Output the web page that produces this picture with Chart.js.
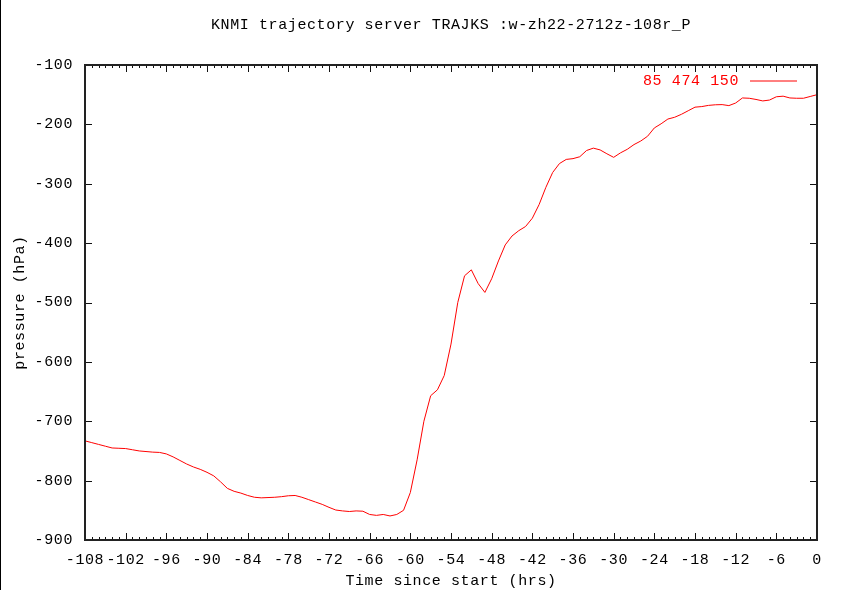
<!DOCTYPE html>
<html><head><meta charset="utf-8">
<script src="https://cdn.jsdelivr.net/npm/chart.js@4/dist/chart.umd.min.js"></script>
<style>html,body{margin:0;padding:0;background:#fff}#wrap{width:843px;height:590px;position:relative}</style>
</head><body><div id="wrap"><canvas id="c" width="843" height="590"></canvas></div>
<script>
const titleText = 'KNMI trajectory server TRAJKS :w-zh22-2712z-108r_P';
const seriesLabel = '85 474 150';
const xTitle = 'Time since start (hrs)';
const yTitle = 'pressure (hPa)';
const hours = [-108,-107,-106,-105,-104,-103,-102,-101,-100,-99,-98,-97,-96,-95,-94,-93,-92,-91,-90,-89,-88,-87,-86,-85,-84,-83,-82,-81,-80,-79,-78,-77,-76,-75,-74,-73,-72,-71,-70,-69,-68,-67,-66,-65,-64,-63,-62,-61,-60,-59,-58,-57,-56,-55,-54,-53,-52,-51,-50,-49,-48,-47,-46,-45,-44,-43,-42,-41,-40,-39,-38,-37,-36,-35,-34,-33,-32,-31,-30,-29,-28,-27,-26,-25,-24,-23,-22,-21,-20,-19,-18,-17,-16,-15,-14,-13,-12,-11,-10,-9,-8,-7,-6,-5,-4,-3,-2,-1,0];
const pressure = [-733,-736,-739,-742,-745,-745.5,-746,-748,-750,-751,-752,-752.5,-755,-760,-766,-772,-777,-781,-786,-792,-802,-813,-818,-821,-825,-828,-829,-828.5,-828,-827,-825.5,-825,-828,-832,-836,-840,-845,-849.5,-851,-852,-851,-851.5,-857,-858.5,-857,-859.5,-857,-850,-820,-765,-700,-657,-647,-623,-570,-500,-455,-445,-468,-483,-460,-430,-403,-388,-379,-372,-358,-335,-306,-281,-266,-259,-257.7,-254.5,-244,-240,-243,-249.5,-255.5,-248,-242,-234,-228,-220,-206,-199,-191,-188,-183,-177,-171,-170,-168,-167,-166.7,-168.4,-164,-155.5,-156,-158,-160.5,-159,-153.5,-152.5,-155.5,-156,-156,-153,-150];
const xRange = [-108, 0];
const xStep = 6;
const yRange = [-900, -100];
const yStep = 100;

const FONT = {family: "'Liberation Mono', 'DejaVu Sans Mono', monospace", size: 15};

const frame = {
  id: 'frame',
  beforeDraw(chart) { chart.ctx.letterSpacing = '0.6px'; },
  afterDatasetsDraw(chart) {
    const ctx = chart.ctx, a = chart.chartArea, xs = chart.scales.x, ys = chart.scales.y;
    ctx.save();
    ctx.strokeStyle = '#111';
    ctx.lineWidth = 1;
    ctx.beginPath();
    for (let v = xRange[0]; v <= xRange[1]; v += 1) {
      const p = Math.round(xs.getPixelForValue(v)) + 0.5;
      const len = (v % xStep === 0) ? 7 : 3;
      ctx.moveTo(p, a.bottom); ctx.lineTo(p, a.bottom - len);
      ctx.moveTo(p, a.top); ctx.lineTo(p, a.top + len);
    }
    for (let v = yRange[0]; v <= yRange[1]; v += yStep) {
      const p = Math.round(ys.getPixelForValue(v)) + 0.5;
      ctx.moveTo(a.left, p); ctx.lineTo(a.left + 7, p);
      ctx.moveTo(a.right, p); ctx.lineTo(a.right - 7, p);
    }
    ctx.stroke();
    ctx.lineWidth = 2;
    ctx.strokeStyle = '#222';
    ctx.strokeRect(a.left, a.top, a.right - a.left, a.bottom - a.top);
    // key
    ctx.letterSpacing = '0.6px';
    ctx.font = "15px 'Liberation Mono', 'DejaVu Sans Mono', monospace";
    ctx.fillStyle = '#ff0000';
    ctx.textAlign = 'right';
    ctx.textBaseline = 'middle';
    ctx.fillText(seriesLabel, a.right - 78, a.top + 16);
    ctx.strokeStyle = '#ff0000';
    ctx.lineWidth = 1;
    ctx.beginPath();
    ctx.moveTo(a.right - 67, a.top + 16); ctx.lineTo(a.right - 20, a.top + 16);
    ctx.stroke();
    // page edge line
    ctx.strokeStyle = '#000';
    ctx.beginPath(); ctx.moveTo(0.5, 0); ctx.lineTo(0.5, chart.height); ctx.stroke();
    ctx.restore();
  }
};

new Chart(document.getElementById('c'), {
  type: 'line',
  data: {
    labels: hours,
    datasets: [{
      label: seriesLabel,
      data: hours.map((h, i) => ({x: h, y: pressure[i]})),
      borderColor: '#ff0000',
      borderWidth: 1,
      pointRadius: 0,
      tension: 0,
      fill: false
    }]
  },
  options: {
    responsive: false,
    animation: false,
    devicePixelRatio: 1,
    layout: {padding: {left: 0, right: 26, top: 0, bottom: 0}},
    plugins: {
      legend: {display: false},
      tooltip: {enabled: false},
      title: {
        display: true, text: titleText, fullSize: false, color: '#000',
        font: {...FONT, weight: 'normal'}, padding: {top: 16, bottom: 31}
      }
    },
    scales: {
      x: {
        type: 'linear', position: 'bottom', min: xRange[0], max: xRange[1],
        grid: {display: false, drawTicks: false}, border: {display: false},
        ticks: {stepSize: xStep, autoSkip: false, maxRotation: 0, color: '#000', font: FONT, padding: 11},
        title: {display: true, text: xTitle, color: '#000', font: FONT, padding: {top: 0, bottom: 0}},
        afterFit(s) { s.height = 50; }
      },
      y: {
        type: 'linear', position: 'left', min: yRange[0], max: yRange[1],
        grid: {display: false, drawTicks: false}, border: {display: false},
        ticks: {stepSize: yStep, color: '#000', font: FONT, padding: 12},
        title: {display: true, text: yTitle, color: '#000', font: FONT, padding: {top: 11, bottom: 0}},
        afterFit(s) { s.width = 85; }
      }
    }
  },
  plugins: [frame]
});
</script>
</body></html>
